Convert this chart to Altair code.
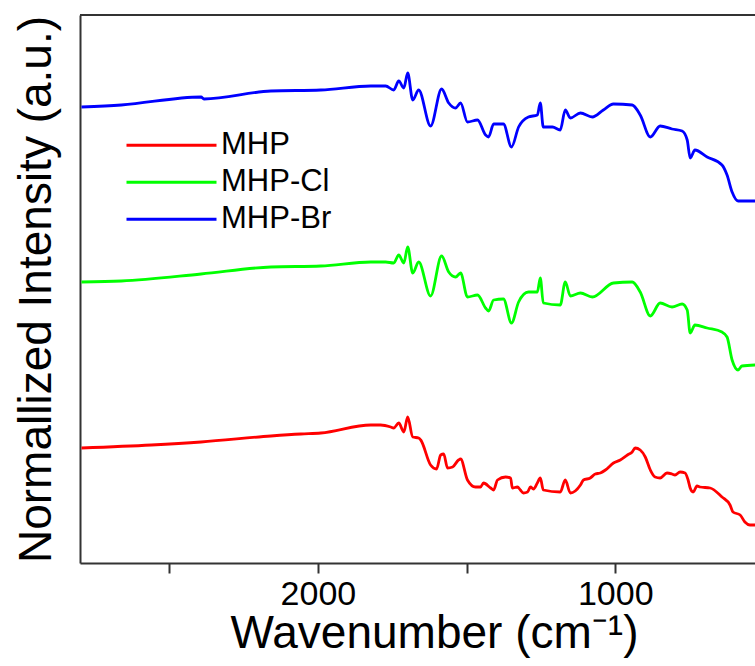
import altair as alt
import pandas as pd

# ---- data (wavenumber in cm^-1, intensity in a.u.) ----
series_names = ["MHP", "MHP-Cl", "MHP-Br"]
series_colors = ["#ff0000", "#00ff00", "#0000ff"]

wn_br = [2795, 2661, 2393, 2383, 2158, 1990, 1822, 1772, 1745, 1728, 1711, 1698, 1681, 1661, 1621,
         1584, 1560, 1537, 1520, 1497, 1463, 1436, 1426, 1409, 1376, 1349, 1325, 1292, 1262, 1252,
         1242, 1211, 1185, 1168, 1151, 1117, 1077, 1040, 1006, 943, 916, 882, 849, 809, 775,
         758, 748, 732, 691, 641, 624, 607, 587, 530]
int_br = [456, 458, 466, 464, 472, 473, 477, 477, 473, 482, 475, 490, 463, 473, 437,
          474, 460, 455, 460, 441, 443, 428, 426, 439, 439, 416, 436, 446, 448, 460,
          436, 436, 433, 453, 445, 450, 446, 453, 459, 458, 448, 426, 437, 434, 432,
          423, 405, 413, 406, 398, 388, 371, 362, 362]

wn_cl = [2795, 2661, 2393, 2158, 1990, 1822, 1772, 1745, 1728, 1711, 1698, 1681, 1661, 1621, 1584,
         1560, 1537, 1520, 1497, 1463, 1436, 1426, 1409, 1376, 1349, 1325, 1292, 1262, 1252, 1242,
         1185, 1168, 1151, 1117, 1077, 1006, 943, 916, 882, 849, 809, 775, 758, 748, 732,
         691, 641, 624, 607, 587, 574, 530]
int_cl = [281, 282, 289, 296, 297, 301, 301, 300, 308, 300, 316, 290, 301, 267, 307,
          291, 286, 290, 266, 268, 255, 252, 263, 264, 240, 261, 271, 271, 285, 260,
          258, 281, 267, 270, 266, 280, 281, 271, 247, 260, 256, 259, 253, 230, 238,
          235, 231, 226, 203, 193, 197, 198]

wn_mhp = [2795, 2560, 2393, 2158, 2057, 1990, 1822, 1789, 1755, 1745, 1728, 1711, 1698, 1681, 1661,
          1654, 1621, 1601, 1587, 1577, 1564, 1547, 1527, 1520, 1497, 1470, 1453, 1443, 1419, 1409,
          1396, 1369, 1352, 1346, 1329, 1319, 1309, 1295, 1285, 1275, 1262, 1252, 1242, 1185, 1168,
          1151, 1117, 1107, 1084, 1067, 1050, 1033, 1006, 983, 959, 943, 933, 916, 899, 882,
          866, 849, 826, 809, 799, 782, 765, 755, 748, 738, 725, 715, 681, 641, 614,
          604, 580, 564, 547, 530]
int_mhp = [115, 118, 121, 127, 129, 130, 138, 138, 136, 135, 140, 131, 146, 126, 125,
           123, 98, 94, 108, 109, 95, 96, 103, 104, 83, 76, 76, 80, 75, 73,
           83, 86, 85, 75, 76, 73, 70, 71, 76, 74, 80, 85, 73, 71, 83,
           70, 78, 83, 85, 89, 90, 93, 100, 103, 108, 111, 115, 113, 106, 93,
           86, 85, 90, 89, 88, 91, 90, 83, 75, 71, 77, 76, 75, 66, 58,
           51, 48, 41, 38, 38]

x_domain = [2800, 530]
x_tick_values = [2500, 2000, 1500, 1000]

rows = []
for name, wns, vals in [("MHP", wn_mhp, int_mhp), ("MHP-Cl", wn_cl, int_cl), ("MHP-Br", wn_br, int_br)]:
    for w, v in zip(wns, vals):
        rows.append({"series": name, "wavenumber": w, "intensity": v})
df = pd.DataFrame(rows)

W, H = 675, 548
FONT = "Liberation Sans"

x = alt.X(
    "wavenumber:Q",
    scale=alt.Scale(domain=x_domain, nice=False, zero=False),
    axis=alt.Axis(
        values=x_tick_values,
        format="d",
        labelExpr="datum.value % 1000 == 0 ? datum.label : ''",
        grid=False,
        tickSize=10, tickWidth=2, tickColor="#333333",
        domainWidth=2, domainColor="#333333",
        labelFont=FONT, labelFontSize=34, labelColor="black", labelPadding=4,
        labelFlush=False, labelOverlap=False,
        title="Wavenumber (cm⁻¹)",
        titleFont=FONT, titleFontSize=46, titleFontWeight="normal", titleColor="black",
        titlePadding=0, titleX=354,
    ),
)
y = alt.Y(
    "intensity:Q",
    scale=alt.Scale(domain=[0, 548], nice=False, zero=False),
    axis=alt.Axis(
        labels=False, ticks=False, grid=False,
        domainWidth=2, domainColor="#333333",
        title="Normallized Intensity (a.u.)",
        titleFont=FONT, titleFontSize=46, titleFontWeight="normal", titleColor="black",
        titlePadding=20,
    ),
)

lines = alt.Chart(df).mark_line(strokeWidth=2.8, clip=True, interpolate="monotone").encode(
    x=x,
    y=y,
    color=alt.Color(
        "series:N",
        scale=alt.Scale(domain=series_names, range=series_colors),
        legend=alt.Legend(
            orient="none", legendX=45, legendY=112, title=None,
            symbolType="stroke", symbolSize=8100, symbolStrokeWidth=3,
            labelFont=FONT, labelFontSize=31, labelColor="black", labelOffset=3,
            clipHeight=36.5, rowPadding=0, padding=0,
        ),
    ),
)

border = alt.Chart(pd.DataFrame({"a": [0]})).mark_rule(color="#333333", strokeWidth=2).encode(
    x=alt.value(0), x2=alt.value(W), y=alt.value(0)
)

chart = (
    alt.layer(lines, border)
    .properties(
        width=W, height=H,
        padding={"left": 80, "top": 15, "right": 0, "bottom": 103},
        autosize=alt.AutoSizeParams(type="none"),
        background="white",
    )
    .configure_view(stroke=None)
)

chart.save("out.html", embed_options={"renderer": "svg", "actions": False})
